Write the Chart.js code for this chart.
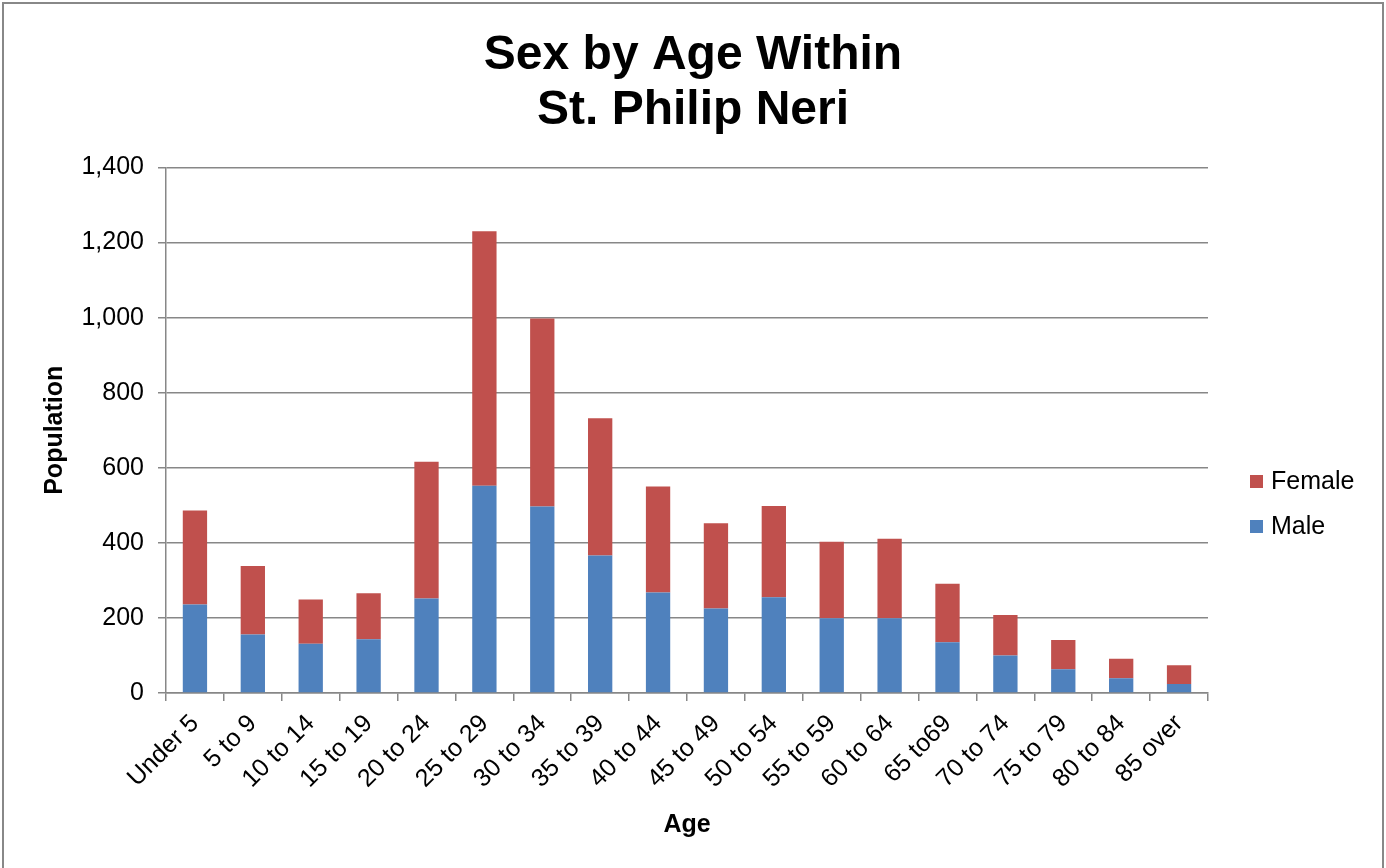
<!DOCTYPE html>
<html>
<head>
<meta charset="utf-8">
<title>Sex by Age Within St. Philip Neri</title>
<script src="https://cdn.jsdelivr.net/npm/chart.js@4.4.1/dist/chart.umd.min.js"></script>
<style>
  html, body { margin: 0; padding: 0; background: #fff; }
  #wrap { width: 1386px; height: 868px; }
</style>
</head>
<body>
<div id="wrap"><canvas id="chart" width="1386" height="868"></canvas></div>
<script>
const ageGroups = ['Under 5', '5 to 9', '10 to 14', '15 to 19', '20 to 24', '25 to 29', '30 to 34',
    '35 to 39', '40 to 44', '45 to 49', '50 to 54', '55 to 59', '60 to 64', '65 to69',
    '70 to 74', '75 to 79', '80 to 84', '85 over'];
const maleValues = [236, 156, 131, 143, 252, 552, 497, 366, 268, 225, 255, 199, 199, 135, 100, 63, 39, 24];
const femaleValues = [250, 182, 118, 123, 364, 678, 501, 366, 282, 227, 243, 204, 212, 156, 108, 78, 52, 50];

const FONT = "'Liberation Sans', Arial, sans-serif";
const GRID = '#878787';

// border round the whole chart, like the Excel chart frame
const frame = {
    id: 'frame',
    beforeDraw(chart) {
        const ctx = chart.ctx;
        ctx.save();
        ctx.fillStyle = '#fff';
        ctx.fillRect(0, 0, chart.width, chart.height);
        ctx.strokeStyle = '#888';
        ctx.lineWidth = 2;
        ctx.strokeRect(3, 3, 1380, 880);
        ctx.restore();
    }
};

// legend on the right, Female above Male
const sideLegend = {
    id: 'sideLegend',
    afterDraw(chart) {
        const ctx = chart.ctx;
        const sets = chart.data.datasets.slice().reverse();
        ctx.save();
        ctx.font = '25px ' + FONT;
        ctx.textBaseline = 'middle';
        ctx.textAlign = 'left';
        sets.forEach((ds, i) => {
            const y = 482 + i * 45;
            ctx.fillStyle = ds.backgroundColor;
            ctx.fillRect(1250, y - 7, 13, 13);
            ctx.fillStyle = '#000';
            ctx.fillText(ds.label, 1271, y);
        });
        ctx.restore();
    }
};

new Chart(document.getElementById('chart'), {
    type: 'bar',
    data: {
        labels: ageGroups,
        datasets: [
            { label: 'Male', data: maleValues, backgroundColor: '#4F81BD' },
            { label: 'Female', data: femaleValues, backgroundColor: '#C0504D' }
        ]
    },
    plugins: [frame, sideLegend],
    options: {
        responsive: false,
        animation: false,
        layout: { padding: 0 },
        datasets: { bar: { barPercentage: 0.42, categoryPercentage: 1 } },
        plugins: {
            legend: { display: false },
            tooltip: { enabled: false },
            title: {
                display: true,
                text: ['Sex by Age Within', 'St. Philip Neri'],
                color: '#000',
                font: { family: FONT, size: 48, weight: 'bold', lineHeight: 1.13 },
                padding: { top: 29, bottom: 30 }
            }
        },
        scales: {
            x: {
                stacked: true,
                grid: { drawOnChartArea: false, color: GRID, lineWidth: 1.5, tickLength: 8 },
                border: { color: GRID, width: 1.5 },
                ticks: {
                    color: '#000', autoSkip: false, minRotation: 45, maxRotation: 45, padding: 8,
                    font: { family: FONT, size: 25 }
                },
                title: {
                    display: true, text: 'Age', color: '#000',
                    font: { family: FONT, size: 25, weight: 'bold' },
                    padding: { top: 0, bottom: 28 }
                },
                afterFit(scale) { scale.height = 175; }
            },
            y: {
                stacked: true,
                min: 0,
                max: 1400,
                grid: { color: GRID, lineWidth: 1.5, tickLength: 8 },
                border: { color: GRID, width: 1.5 },
                ticks: {
                    stepSize: 200, color: '#000', padding: 14,
                    font: { family: FONT, size: 25 },
                    callback: v => v.toLocaleString('en-US')
                },
                title: {
                    display: true, text: 'Population', color: '#000',
                    font: { family: FONT, size: 25, weight: 'bold' },
                    padding: { top: 40, bottom: 0 }
                },
                afterFit(scale) { scale.width = 166; }
            },
            // empty side column that keeps room for the legend
            side: {
                type: 'linear',
                position: 'right',
                grid: { display: false, drawOnChartArea: false },
                border: { display: false },
                ticks: { display: false },
                afterFit(scale) { scale.width = 178; }
            }
        }
    }
});
</script>
</body>
</html>
